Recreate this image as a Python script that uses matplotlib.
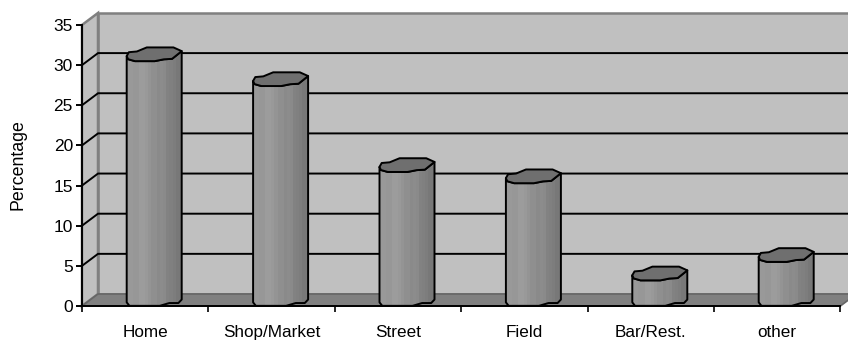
import numpy as np
import matplotlib
matplotlib.use("Agg")
import matplotlib.pyplot as plt
from matplotlib.patches import Polygon

plt.rcParams['font.family'] = ['Liberation Sans', 'DejaVu Sans']

categories = ['Home', 'Shop/Market', 'Street', 'Field', 'Bar/Rest.', 'other']
percentages = [30.6, 27.5, 16.8, 15.4, 3.3, 5.6]
y_ticks = [0, 5, 10, 15, 20, 25, 30, 35]

WIDTH, HEIGHT = 848, 342
LEFT, BOTTOM, TOP = 82, 306, 14
CAT_W = 126.4
UNIT_H = 8.03

# 3d look: back wall is shifted by this many pixels from the front plane
DEPTH_PX = 16
RISE_PX = 12
dx = DEPTH_PX / CAT_W
dy = RISE_PX / UNIT_H

# cylinder geometry in pixels
CYL_HALF = 27.5
CYL_SHIFT = 9
CAP_RISE = 6

# hand drawn outline of the cap, normalised to half width / half height
cap_outline = [(-1.0, -0.25), (-0.92, 0.3), (-0.63, 0.4), (-0.27, 0.98), (0.7, 0.98),
               (1.0, 0.45), (0.65, -0.65), (0.35, -0.72), (0.02, -0.98), (-0.7, -0.98),
               (-0.95, -0.7)]
base_outline = [(-1.0, 0.5), (-0.9, 0.0), (0.2, 0.0), (0.55, 0.4), (0.88, 0.4), (1.0, 0.9)]
strip_shades = [0.60, 0.60, 0.59, 0.59, 0.61, 0.61, 0.60, 0.58, 0.56, 0.56,
                0.54, 0.55, 0.54, 0.51, 0.50, 0.49, 0.47, 0.47]

fig = plt.figure(figsize=(WIDTH / 100, HEIGHT / 100), dpi=100)
ax = fig.add_axes([LEFT / WIDTH, 1 - BOTTOM / HEIGHT, (WIDTH - LEFT) / WIDTH, (BOTTOM - TOP) / HEIGHT])
ax.set_xlim(0, (WIDTH - LEFT) / CAT_W)
ax.set_ylim(0, (BOTTOM - TOP) / UNIT_H)
ax.patch.set_visible(False)

n = len(categories)
top = y_ticks[-1]

# walls and floor
ax.add_patch(Polygon([(dx, dy), (n + dx, dy), (n + dx, top + dy), (dx, top + dy)],
                     fc='#c0c0c0', ec='#808080', lw=1.8, zorder=1, clip_on=False))
ax.add_patch(Polygon([(0, 0), (dx, dy), (dx, top + dy), (0, top)],
                     fc='#c0c0c0', ec='#808080', lw=1.8, zorder=1, clip_on=False))
ax.add_patch(Polygon([(0, 0), (dx, dy), (n + dx, dy), (n, 0)],
                     fc='#808080', ec='#666666', lw=1.2, zorder=1.5, clip_on=False))

# gridlines wrap around the side wall
for v in y_ticks[1:-1]:
    ax.plot([0, dx, n + dx], [v, v + dy, v + dy], color='black', lw=1.4, zorder=2,
            solid_joinstyle='miter', clip_on=False)

# cylinders
half = CYL_HALF / CAT_W
shift = CYL_SHIFT / CAT_W
cap_h = 7 / UNIT_H
rise = CAP_RISE / UNIT_H
for i, value in enumerate(percentages):
    cx = i + 0.5 + shift
    cy = value + rise
    cap = [(cx + half * px, cy + cap_h * py) for px, py in cap_outline]
    base = [(cx + half * px, 0.02 + cap_h * py) for px, py in base_outline]
    body = [cap[0]] + base + [cap[5]] + cap[6:]
    ax.add_patch(Polygon(body, closed=True, fc='none', ec='black', lw=1.4, zorder=4,
                         joinstyle='round', clip_on=False))
    edges = np.linspace(cx - half, cx + half, len(strip_shades) + 1)
    mesh = ax.pcolormesh(edges, [0, cy + cap_h], [strip_shades], cmap='gray', vmin=0, vmax=1,
                         zorder=3)
    mesh.set_clip_path(Polygon(body, closed=True, transform=ax.transData))
    ax.add_patch(Polygon(cap, closed=True, fc='#6f6f6f', ec='black', lw=1.4, zorder=5,
                         joinstyle='round', clip_on=False))

# axes
for side in ['top', 'right']:
    ax.spines[side].set_visible(False)
ax.spines['left'].set_bounds(0, top)
ax.spines['bottom'].set_bounds(0, n)
for side in ['left', 'bottom']:
    ax.spines[side].set_linewidth(1.4)
    ax.spines[side].set_zorder(6)

ax.set_yticks(y_ticks)
ax.tick_params(axis='y', length=4.5, width=1.4, labelsize=12.5, pad=2)
ax.set_xticks(np.arange(n + 1))
ax.set_xticklabels([])
ax.tick_params(axis='x', which='major', length=4, width=1.2)
ax.set_xticks(np.arange(n) + 0.5, minor=True)
ax.set_xticklabels(categories, minor=True)
ax.tick_params(axis='x', which='minor', length=0, labelsize=12.3, pad=14)

fig.text(18 / WIDTH, 1 - 165 / HEIGHT, 'Percentage', rotation=90, fontsize=12.8,
         ha='center', va='center')

fig.savefig('out.png', dpi=100)
